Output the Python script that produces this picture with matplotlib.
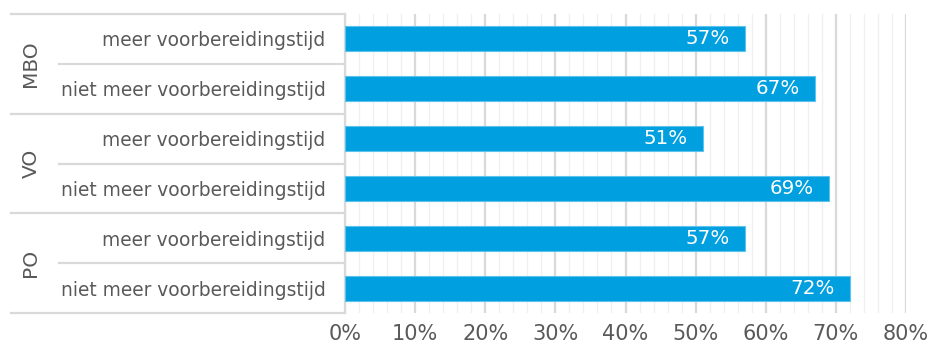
import matplotlib
matplotlib.use("Agg")
import matplotlib.pyplot as plt
import matplotlib.transforms as mtransforms
import numpy as np

plt.rcParams['font.family'] = ['DejaVu Sans']

groups = ["MBO", "VO", "PO"]
subcats = ["meer voorbereidingstijd", "niet meer voorbereidingstijd"]
values = [57, 67, 51, 69, 57, 72]  # MBO meer, MBO niet, VO meer, VO niet, PO meer, PO niet
xticks = [0, 10, 20, 30, 40, 50, 60, 70, 80]
xtick_labels = [f"{v}%" for v in xticks]

W, H = 931, 349
fig = plt.figure(figsize=(W / 100, H / 100), dpi=100)
ax = fig.add_axes([345 / W, 1 - 313 / H, (906 - 345) / W, (313 - 14) / H])

labels = [s for g in groups for s in subcats]
ypos = np.arange(len(labels))
bar_color = "#009FDF"
text_gray = "#595959"
grid_major = "#D9D9D9"
grid_minor = "#F0F0F0"

ax.barh(ypos, values, height=0.5, color=bar_color, edgecolor="#5CC3EE", linewidth=0.8, zorder=3)
for y, v in zip(ypos, values):
    ax.annotate(f"{v}%", xy=(v, y), xytext=(-11, 0), textcoords="offset points",
                ha="right", va="center", color="white", fontsize=14.3, zorder=4)

ax.set_xlim(0, 80)
ax.set_ylim(len(labels) - 0.5, -0.5)
ax.set_xticks(xticks)
ax.set_xticklabels(xtick_labels, color=text_gray, fontsize=15)
ax.set_xticks(np.arange(0, 81, 2), minor=True)
ax.set_yticks(ypos)
ax.set_yticklabels(labels, color=text_gray, fontsize=13.4)
ax.tick_params(axis="y", length=0, pad=14)
ax.tick_params(axis="x", which="both", length=0, pad=8)

ax.grid(axis="x", which="minor", color=grid_minor, linewidth=1.0, zorder=0)
ax.grid(axis="x", which="major", color=grid_major, linewidth=1.6, zorder=1)
for s in ["top", "right", "bottom"]:
    ax.spines[s].set_visible(False)
ax.spines["left"].set_color(grid_major)
ax.spines["left"].set_linewidth(1.6)

# table lines to the left of the axis
trans = mtransforms.blended_transform_factory(fig.transFigure, ax.transData)
for b in [-0.5, 1.5, 3.5, 5.5]:
    ax.plot([11 / W, 345 / W], [b, b], transform=trans, color=grid_major, lw=1.6, clip_on=False)
for b in [0.5, 2.5, 4.5]:
    ax.plot([59 / W, 345 / W], [b, b], transform=trans, color=grid_major, lw=1.6, clip_on=False)

for i, g in enumerate(groups):
    ax.text(31 / W, 2 * i + 0.5, g, transform=trans, rotation=90, ha="center", va="center",
            color=text_gray, fontsize=14.5)

fig.savefig("out.png", dpi=100)
